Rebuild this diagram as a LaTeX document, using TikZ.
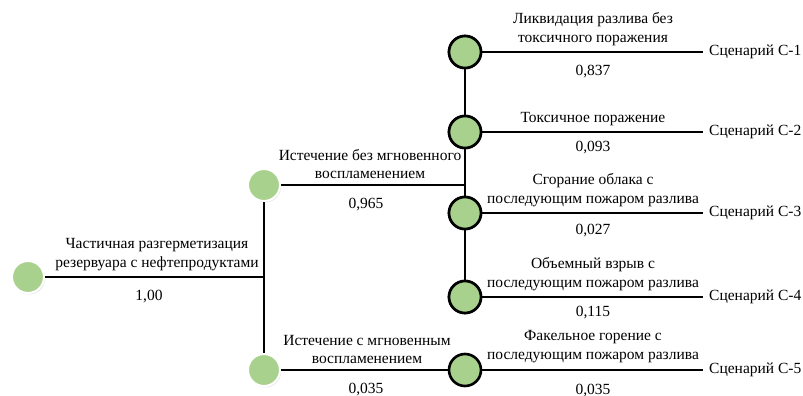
\documentclass[tikz,border=0pt]{standalone}
\usepackage{fontspec}
\setmainfont{Liberation Serif}
\usetikzlibrary{positioning,shadows,calc}

\definecolor{evgreen}{HTML}{A9D18E}

\begin{document}
\begin{tikzpicture}[
  x=1pt,y=-1pt,
  font=\fontsize{15.5}{18.5}\selectfont,
  ev/.style={circle,minimum size=32pt,inner sep=0pt,fill=evgreen,draw=white,line width=2pt,
             drop shadow={opacity=0.18,shadow xshift=1.2pt,shadow yshift=-1.5pt}},
  outc/.style={circle,minimum size=32pt,inner sep=0pt,fill=evgreen,draw=black,line width=2.6pt},
  br/.style={line width=2.8pt,black},
  lbl/.style={align=center,inner sep=1pt},
  scen/.style={anchor=west,inner xsep=6pt,inner ysep=1pt},
]
\useasboundingbox (0,0) rectangle (803,396);

% ---------- branches ----------
\draw[br] (264,185) -- (264,370);
\draw[br] (465,52) -- (465,297);

% ---------- events ----------
\node[ev] (c0) at (28,277) {};
\node[ev] (c1) at (264,185) {};
\node[ev] (c2) at (264,370) {};
\coordinate (j0) at (264,277);
\coordinate (j1) at (465,185);

% ---------- outcomes ----------
\node[outc] (d1) at (465,52) {};
\node[outc] (d2) at (465,132) {};
\node[outc] (d3) at (465,213) {};
\node[outc] (d4) at (465,297) {};
\node[outc] (d5) at (465,370) {};

\node[scen] (s1) at (703,52) {Сценарий С-1};
\node[scen] (s2) at (703,132) {Сценарий С-2};
\node[scen] (s3) at (703,213) {Сценарий С-3};
\node[scen] (s4) at (703,297) {Сценарий С-4};
\node[scen] (s5) at (703,370) {Сценарий С-5};

% ---------- connectors ----------
\draw[br] (c0) -- (j0);
\draw[br] (c1) -- (j1);
\draw[br] (c2) -- (d5);
\foreach \i in {1,...,5} \draw[br] (d\i) -- (s\i.west);
\foreach \i in {1,2,3,4} \node[outc] at (d\i) {};

% ---------- labels ----------
\node[lbl,anchor=south] (t0) at (157,272) {Частичная разгерметизация\\резервуара с нефтепродуктами};
\node[lbl] (p0) at (149,297) {1,00};
\node[lbl,anchor=south] (t1) at (370,180) {Истечение без мгновенного\\воспламенением};
\node[lbl] (p1) at (366,205) {0,965};
\node[lbl,anchor=south] (t2) at (367,365) {Истечение с мгновенным\\воспламенением};
\node[lbl] (p2) at (366,390) {0,035};

\node[lbl,anchor=south] (t3) at (593,47) {Ликвидация разлива без\\токсичного поражения};
\node[lbl] (p3) at (593,72) {0,837};
\node[lbl,anchor=south] (t4) at (593,127) {Токсичное поражение};
\node[lbl] (p4) at (593,148) {0,093};
\node[lbl,anchor=south] (t5) at (593,208) {Сгорание облака с\\последующим пожаром разлива};
\node[lbl] (p5) at (593,231) {0,027};
\node[lbl,anchor=south] (t6) at (593,292) {Объемный взрыв с\\последующим пожаром разлива};
\node[lbl] (p6) at (593,313) {0,115};
\node[lbl,anchor=south] (t7) at (593,364) {Факельное горение с\\последующим пожаром разлива};
\node[lbl] (p7) at (593,391) {0,035};
\end{tikzpicture}
\end{document}
